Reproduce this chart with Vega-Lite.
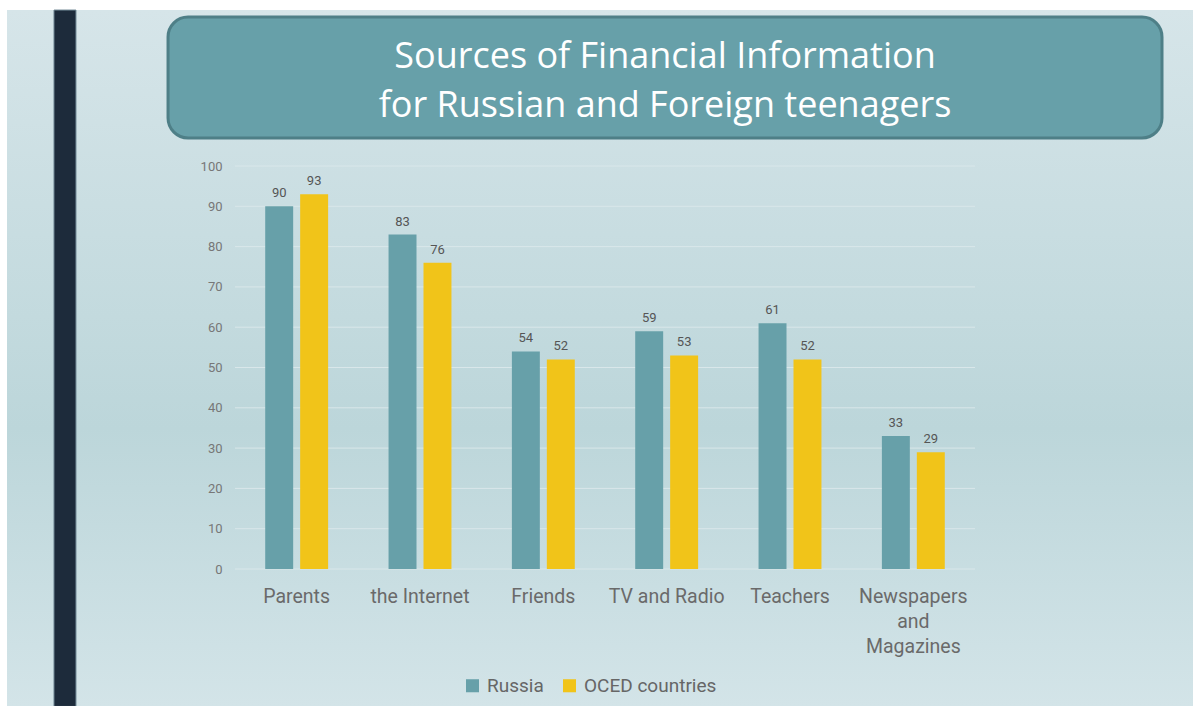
{
  "$schema": "https://vega.github.io/schema/vega-lite/v6.json",
  "width": 740,
  "height": 403,
  "autosize": "none",
  "padding": {"left": 235, "top": 166, "right": 218, "bottom": 137},
  "background": "white",
  "title": {
    "text": ["Sources of Financial Information", "for Russian and Foreign teenagers"],
    "anchor": "middle",
    "frame": "group",
    "dx": 60,
    "offset": -151,
    "baseline": "bottom",
    "font": "Open Sans",
    "fontSize": 36,
    "fontWeight": "normal",
    "color": "#ffffff",
    "lineHeight": 49
  },
  "config": {
    "view": {"stroke": null},
    "font": "Roboto"
  },
  "datasets": {
    "sources": [
      {"source": "Parents", "group": "Russia", "value": 90},
      {"source": "Parents", "group": "OCED countries", "value": 93},
      {"source": "the Internet", "group": "Russia", "value": 83},
      {"source": "the Internet", "group": "OCED countries", "value": 76},
      {"source": "Friends", "group": "Russia", "value": 54},
      {"source": "Friends", "group": "OCED countries", "value": 52},
      {"source": "TV and Radio", "group": "Russia", "value": 59},
      {"source": "TV and Radio", "group": "OCED countries", "value": 53},
      {"source": "Teachers", "group": "Russia", "value": 61},
      {"source": "Teachers", "group": "OCED countries", "value": 52},
      {"source": "Newspapers and Magazines", "group": "Russia", "value": 33},
      {"source": "Newspapers and Magazines", "group": "OCED countries", "value": 29}
    ],
    "gridlines": [
      {"tick": 0}, {"tick": 10}, {"tick": 20}, {"tick": 30}, {"tick": 40}, {"tick": 50},
      {"tick": 60}, {"tick": 70}, {"tick": 80}, {"tick": 90}, {"tick": 100}
    ],
    "frame": [{"part": "frame"}]
  },
  "layer": [
    {
      "data": {"name": "frame"},
      "mark": {
        "type": "rect",
        "color": {
          "gradient": "linear", "x1": 0, "y1": 0, "x2": 0, "y2": 1,
          "stops": [
            {"offset": 0, "color": "#d6e5e9"},
            {"offset": 0.6, "color": "#bcd6da"},
            {"offset": 1, "color": "#d3e4e8"}
          ]
        }
      },
      "encoding": {
        "x": {"datum": -30.81, "type": "quantitative", "scale": {"domain": [0, 100], "nice": false, "zero": false}, "axis": null},
        "x2": {"datum": 129.5},
        "y": {"datum": 138.7, "type": "quantitative", "scale": {"domain": [0, 100], "nice": false}, "axis": null},
        "y2": {"datum": -34.1}
      }
    },
    {
      "data": {"name": "frame"},
      "mark": {"type": "rect", "color": "#1d2b3b", "stroke": "#6f8794", "strokeWidth": 1},
      "encoding": {
        "x": {"datum": -24.46, "type": "quantitative", "scale": {"domain": [0, 100], "nice": false, "zero": false}, "axis": null},
        "x2": {"datum": -21.49},
        "y": {"datum": 138.7, "type": "quantitative", "scale": {"domain": [0, 100], "nice": false}, "axis": null},
        "y2": {"datum": -34.1}
      }
    },
    {
      "data": {"name": "frame"},
      "mark": {"type": "rect", "color": "#67a0a9", "stroke": "#4e7f87", "strokeWidth": 3, "cornerRadius": 20},
      "encoding": {
        "x": {"datum": -9.05, "type": "quantitative", "scale": {"domain": [0, 100], "nice": false, "zero": false}, "axis": null},
        "x2": {"datum": 125.27},
        "y": {"datum": 136.97, "type": "quantitative", "scale": {"domain": [0, 100], "nice": false}, "axis": null},
        "y2": {"datum": 106.95}
      }
    },
    {
      "data": {"name": "gridlines"},
      "mark": {"type": "rule", "color": "#d9e7ea", "strokeWidth": 1},
      "encoding": {
        "y": {"field": "tick", "type": "quantitative", "scale": {"domain": [0, 100], "nice": false}, "axis": null}
      }
    },
    {
      "data": {"name": "sources"},
      "encoding": {
        "x": {
          "field": "source",
          "type": "nominal",
          "sort": null,
          "scale": {"paddingInner": 0.49, "paddingOuter": 0.245},
          "axis": {
            "orient": "bottom",
            "zindex": 1,
            "title": null,
            "domain": false,
            "ticks": false,
            "grid": false,
            "labelAngle": 0,
            "labelFontSize": 19.5,
            "labelColor": "#6a6a6a",
            "labelPadding": 18,
            "labelLineHeight": 25,
            "labelBaseline": "top",
            "labelExpr": "datum.value == 'Newspapers and Magazines' ? ['Newspapers', 'and', 'Magazines'] : datum.value"
          }
        },
        "xOffset": {
          "field": "group",
          "type": "nominal",
          "sort": ["Russia", "OCED countries"],
          "scale": {"paddingInner": 0.2, "paddingOuter": 0}
        },
        "y": {
          "field": "value",
          "type": "quantitative",
          "scale": {"domain": [0, 100], "nice": false},
          "axis": {
            "orient": "left",
            "zindex": 1,
            "title": null,
            "domain": false,
            "ticks": false,
            "grid": false,
            "values": [0, 10, 20, 30, 40, 50, 60, 70, 80, 90, 100],
            "labelFontSize": 13,
            "labelColor": "#777777",
            "labelPadding": 13
          }
        }
      },
      "layer": [
        {
          "mark": {"type": "bar"},
          "encoding": {
            "color": {
              "field": "group",
              "type": "nominal",
              "sort": ["Russia", "OCED countries"],
              "scale": {"domain": ["Russia", "OCED countries"], "range": ["#67a0a9", "#f1c419"]},
              "legend": {
                "title": null,
                "orient": "none",
                "direction": "horizontal",
                "legendX": 228,
                "legendY": 510,
                "symbolType": "square",
                "symbolSize": 170,
                "symbolStrokeWidth": 0,
                "labelFontSize": 19,
                "labelColor": "#666666",
                "labelOffset": 5,
                "columnPadding": 16
              }
            }
          }
        },
        {
          "mark": {"type": "text", "baseline": "bottom", "dy": -6, "fontSize": 13, "color": "#555555"},
          "encoding": {
            "text": {"field": "value", "type": "quantitative"}
          }
        }
      ]
    }
  ],
  "resolve": {
    "scale": {"x": "independent", "y": "independent"},
    "axis": {"x": "independent", "y": "independent"}
  }
}
